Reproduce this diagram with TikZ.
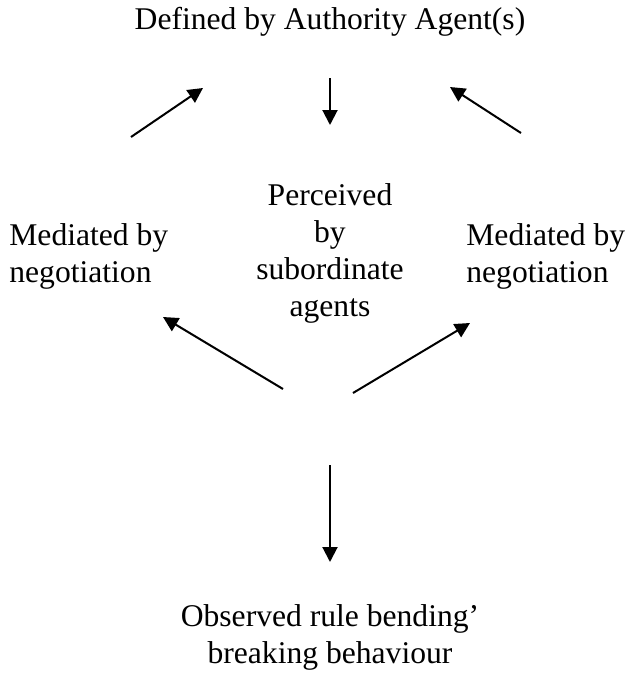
\documentclass[tikz,border=0pt]{standalone}
\usepackage{fontspec}
\setmainfont{Liberation Serif}
\usetikzlibrary{arrows.meta}
\tikzset{
    label/.style = { inner sep=0pt, align=center, font=\fontsize{15.8}{18.5}\selectfont },
    flow/.style  = { line width=1pt, -{Triangle[length=7.5pt, width=7.5pt]} }
}

\begin{document}
\begin{tikzpicture}[
    x=0.5pt, y=-0.5pt,
    label/.style = { inner sep=0pt, align=center, font=\fontsize{15.8}{18.5}\selectfont },
    flow/.style  = { line width=1pt, -{Triangle[length=7.5pt, width=7.5pt]} }
    ]
    %%% Picture laid out in pixel units of the 631x677 page, y going down.
    \useasboundingbox (0,0) rectangle (631,677);

    %%%
    %%% Texts
    %%%
    \node[label] (authority) at (330,21.5) {Defined by Authority Agent(s)};
    \node[label, align=left, anchor=west] (medleft)  at (9,256)   {Mediated by\\negotiation};
    \node[label, align=left, anchor=west] (medright) at (466,256) {Mediated by\\negotiation};
    \node[label] (perceived) at (330,253) {Perceived\\by\\subordinate\\agents};
    \node[label] (observed)  at (330,637) {Observed rule bending'\\breaking behaviour};

    %%%
    %%% Arrow ends
    %%%
    % Name / start / end
    \foreach \name / \start / \tip in {up left/{131,137}/{203,88}, down/{330,78}/{330,125},
                                       up right/{521,133}/{450,87}, low left/{283,389}/{163,317},
                                       low right/{353,393}/{470,323}, bottom/{330,465}/{330,562}}
      {
        \coordinate (\name-s) at (\start);
        \coordinate (\name-e) at (\tip);
      }

    %%%
    %%% Arrows
    %%%
    \foreach \name in {up left, down, up right, low left, low right, bottom}
      {
        \draw[flow] (\name-s) -- (\name-e);
      }
\end{tikzpicture}
\end{document}
